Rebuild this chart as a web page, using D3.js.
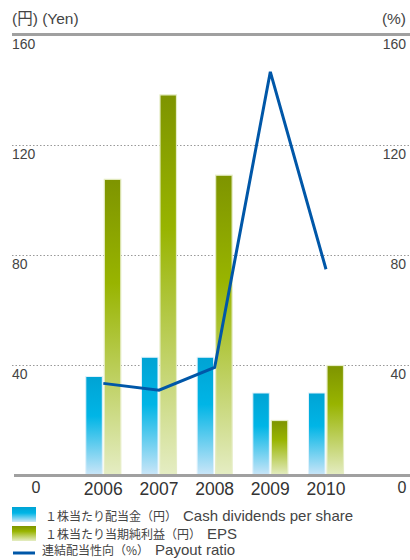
<!DOCTYPE html>
<html><head><meta charset="utf-8">
<script src="https://cdn.jsdelivr.net/npm/d3@7"></script>
<style>body{margin:0;background:#fff;}svg{display:block;font-family:"Liberation Sans","Noto Sans CJK JP",sans-serif;}</style>
</head><body><svg id="c" width="410" height="560"></svg>
<script>
const years = ["2006","2007","2008","2009","2010"];
const dividends = [36, 43, 43, 30, 30];
const eps = [107.7, 138.4, 109.2, 20, 40];
const payout = [33.5, 31, 39.3, 146.8, 75];
const yTicks = [0, 40, 80, 120, 160];
const legendJa = ["１株当たり配当金（円）", "１株当たり当期純利益（円）", "連結配当性向（%）"];
const legendEn = ["Cash dividends per share", "EPS", "Payout ratio"];

const svg = d3.select("#c");
const y = d3.scaleLinear().domain([0,160]).range([475.5, 35.5]);
const x = d3.scalePoint().domain(years).range([103.3, 326]);
const defs = svg.append("defs");
const gb = defs.append("linearGradient").attr("id","gb").attr("x1",0).attr("x2",0).attr("y1",0).attr("y2",1);
gb.append("stop").attr("offset","0%").attr("stop-color","#00a3d4");
gb.append("stop").attr("offset","40%").attr("stop-color","#00b5e6");
gb.append("stop").attr("offset","100%").attr("stop-color","#cce6f8");
const gg = defs.append("linearGradient").attr("id","gg").attr("x1",0).attr("x2",0).attr("y1",0).attr("y2",1);
gg.append("stop").attr("offset","0%").attr("stop-color","#7e9400");
gg.append("stop").attr("offset","35%").attr("stop-color","#98b400");
gg.append("stop").attr("offset","100%").attr("stop-color","#e5edc4");

// header
svg.append("text").attr("x",12).attr("y",24).attr("font-size",15.5).attr("fill","#444").text("(円) (Yen)");
svg.append("text").attr("x",406).attr("y",24).attr("font-size",15.5).attr("fill","#444").attr("text-anchor","end").text("(%)");
svg.append("line").attr("x1",12).attr("x2",410).attr("y1",y(160)-1).attr("y2",y(160)-1).attr("stroke","#a0a0a0").attr("stroke-width",3);

// gridlines
svg.selectAll(".grid").data(yTicks.filter(d=>d>0&&d<160)).enter().append("line")
  .attr("x1",12).attr("x2",410).attr("y1",d=>y(d)).attr("y2",d=>y(d))
  .attr("stroke","#999").attr("stroke-width",1.2).attr("stroke-dasharray","1.5,2");

// tick labels
svg.selectAll(".tl").data(yTicks.filter(d=>d>0)).enter().append("text")
  .attr("x",12).attr("y",d=>y(d)+13).attr("font-size",14).attr("fill","#444").text(d=>d);
svg.selectAll(".tr").data(yTicks.filter(d=>d>0)).enter().append("text")
  .attr("x",406).attr("y",d=>y(d)+13).attr("text-anchor","end").attr("font-size",14).attr("fill","#444").text(d=>d);
svg.append("text").attr("x",36).attr("y",493).attr("text-anchor","middle").attr("font-size",16).attr("fill","#333").text(yTicks[0]);
svg.append("text").attr("x",402).attr("y",493).attr("text-anchor","middle").attr("font-size",16).attr("fill","#333").text(yTicks[0]);

// bars
const bw = 16.5;
years.forEach((yr,i)=>{
  const cx = x(yr);
  svg.append("rect").attr("x",cx-1-bw).attr("width",bw).attr("y",y(dividends[i])).attr("height",y(0)-y(dividends[i]))
    .attr("fill","url(#gb)").attr("stroke","#dff1fb").attr("stroke-width",1);
  svg.append("rect").attr("x",cx+1).attr("width",bw).attr("y",y(eps[i])).attr("height",y(0)-y(eps[i]))
    .attr("fill","url(#gg)").attr("stroke","#e6edc6").attr("stroke-width",1.2);
});

// baseline
svg.append("line").attr("x1",14).attr("x2",410).attr("y1",y(0)).attr("y2",y(0)).attr("stroke","#a0a0a0").attr("stroke-width",3);

// payout line
const line = d3.line().x((d,i)=>x(years[i])).y(d=>y(d));
svg.append("path").attr("d",line(payout)).attr("fill","none").attr("stroke","#0057a8").attr("stroke-width",3).attr("stroke-linejoin","miter");

// year labels
svg.selectAll(".yl").data(years).enter().append("text")
  .attr("x",d=>x(d)).attr("y",495).attr("text-anchor","middle").attr("font-size",17.5).attr("fill","#333").text(d=>d);

// legend
svg.append("rect").attr("x",12).attr("y",507).attr("width",24).attr("height",15).attr("fill","url(#gb)");
svg.append("rect").attr("x",12).attr("y",526).attr("width",24).attr("height",15).attr("fill","url(#gg)");
svg.append("line").attr("x1",13).attr("x2",35).attr("y1",553).attr("y2",553).attr("stroke","#0057a8").attr("stroke-width",3);
const ly = [521, 539, 555];
const lx = [45, 45, 42];
legendJa.forEach((t,i)=>{
  const tx = svg.append("text").attr("x",lx[i]).attr("y",ly[i]).attr("fill","#444");
  tx.append("tspan").attr("font-size",12).attr("font-family","Noto Sans CJK JP").text(t + "　");
  tx.append("tspan").attr("font-size",15).text(legendEn[i]);
});
</script></body></html>
